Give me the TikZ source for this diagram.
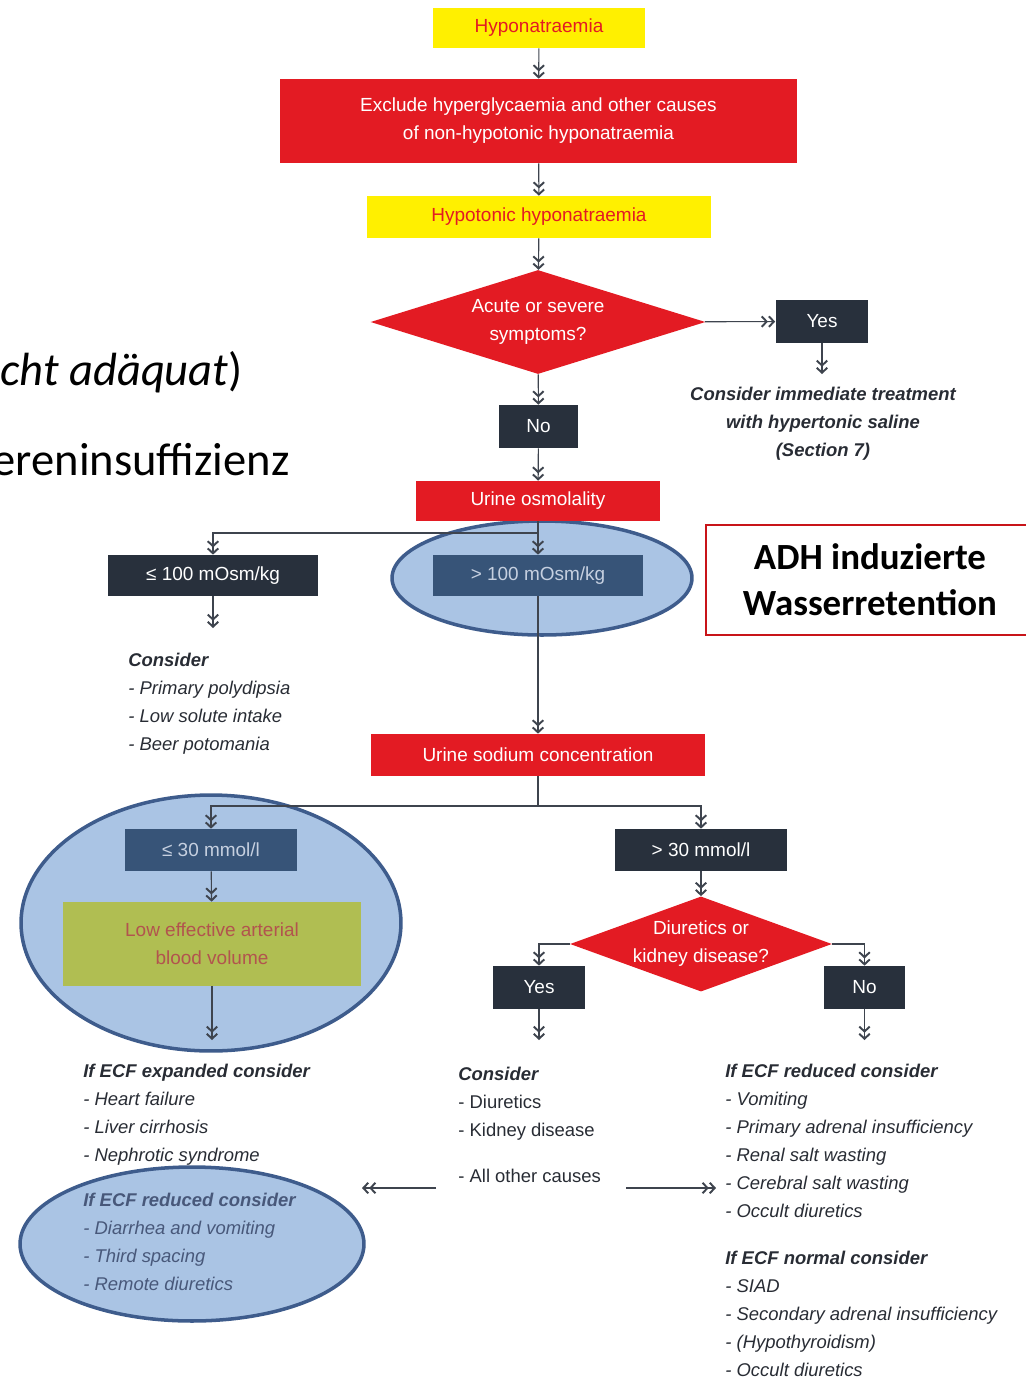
\documentclass[tikz,border=0pt]{standalone}
\usepackage{fontspec}
\setmainfont{Liberation Sans}
\newfontfamily\calibri{Carlito}
\usetikzlibrary{shapes,arrows.meta,calc}
\definecolor{nicered}{RGB}{227,27,35}
\definecolor{signyellow}{RGB}{255,240,0}
\definecolor{slate}{RGB}{40,48,60}
\definecolor{wire}{RGB}{62,68,78}
\definecolor{hlfill}{RGB}{170,196,228}
\definecolor{hldraw}{RGB}{62,92,140}
\definecolor{tintslate}{RGB}{55,84,120}
\definecolor{tinttext}{RGB}{198,208,224}
\definecolor{olivebox}{RGB}{176,190,82}
\definecolor{olivetext}{RGB}{178,84,78}
\definecolor{listtext}{RGB}{40,44,52}
\definecolor{tintlist}{RGB}{72,88,122}
\definecolor{admred}{RGB}{200,20,25}
\tikzstyle{boxtext}=[font=\fontsize{10.8}{15.9}\selectfont,align=center,inner sep=0pt]
\tikzstyle{Ybox}=[boxtext,shape=rectangle,fill=signyellow,text=nicered]
\tikzstyle{Rbox}=[boxtext,shape=rectangle,fill=nicered,text=white]
\tikzstyle{Dbox}=[boxtext,shape=rectangle,fill=slate,text=white]
\tikzstyle{Tbox}=[boxtext,shape=rectangle,fill=tintslate,text=tinttext]
\tikzstyle{Qstate}=[boxtext,shape=diamond,fill=nicered,text=white]
\tikzstyle{hlmark}=[shape=ellipse,draw=hldraw,line width=2pt,fill=hlfill,inner sep=0pt]
\tikzstyle{listnode}=[font=\fontsize{10.5}{15.9}\selectfont,align=left,anchor=north west,inner sep=0pt,text=listtext]
\tikzstyle{flowedge}=[-{Straight Barb[length=2.8pt,width=6pt,line width=1.1pt]Straight Barb[length=2.8pt,width=6pt,line width=1.1pt]},draw=wire,line width=0.65pt]
\tikzstyle{plainedge}=[draw=wire,line width=0.65pt]

\begin{document}
\begin{tikzpicture}[x=0.02cm,y=-0.02cm]
\useasboundingbox (0,0) rectangle (1026,1377);

% highlight marks
\node[hlmark,minimum width=6cm,minimum height=2.28cm] (HL1) at (542,578) {};
\node[hlmark,minimum width=7.6cm,minimum height=5.12cm] (HL2) at (211,923) {};
\node[hlmark,minimum width=6.88cm,minimum height=3.08cm] (HL3) at (192,1244) {};

% left over slide text
\node[font=\calibri\fontsize{26.5}{30}\selectfont,anchor=base east,inner sep=0pt] (FRAG1) at (243,385) {\textit{cht adäquat})};
\node[font=\calibri\fontsize{26.5}{30}\selectfont,anchor=base east,inner sep=0pt] (FRAG2) at (290,475) {ereninsuffizienz};

\node[Ybox,minimum width=4.24cm,minimum height=0.8cm] (HYPO) at (539,28) {Hyponatraemia};
\node[Rbox,minimum width=10.34cm,minimum height=1.68cm] (EXCL) at (538.5,121) {Exclude hyperglycaemia and other causes\\of non-hypotonic hyponatraemia};
\node[Ybox,minimum width=6.88cm,minimum height=0.84cm] (HYPOT) at (539,217) {Hypotonic hyponatraemia};
\node[Qstate,aspect=3.2,minimum width=6.7cm,minimum height=2.08cm] (ACUTE) at (538,322) {Acute or severe\\symptoms?};
\node[Dbox,minimum width=1.86cm,minimum height=0.86cm] (YES1) at (822,321.5) {Yes};
\node[font=\fontsize{10.5}{15.9}\selectfont\bfseries\itshape,align=center,inner sep=0pt,text=listtext] (TREAT) at (823,424) {Consider immediate treatment\\with hypertonic saline\\(Section 7)};
\node[Dbox,minimum width=1.58cm,minimum height=0.86cm] (NO1) at (538.5,426.5) {No};
\node[Rbox,minimum width=4.88cm,minimum height=0.8cm] (UOSM) at (538,501) {Urine osmolality};
\node[Dbox,minimum width=4.2cm,minimum height=0.82cm] (L100) at (213,575.5) {≤ 100 mOsm/kg};
\node[Tbox,minimum width=4.2cm,minimum height=0.82cm] (H100) at (538,575.5) {> 100 mOsm/kg};
\node[draw=admred,line width=1.1pt,minimum width=6.56cm,minimum height=2.2cm,align=center,inner sep=0pt,font=\calibri\bfseries\fontsize{21}{26}\selectfont] (ADH) at (870,580) {ADH induzierte\\Wasserretention};

\node[listnode,font=\fontsize{10.5}{15.9}\selectfont\itshape] (CONS100) at (128,653) {\textbf{Consider}\\- Primary polydipsia\\- Low solute intake\\- Beer potomania};

\node[Rbox,minimum width=6.68cm,minimum height=0.84cm] (USOD) at (538,755) {Urine sodium concentration};
\node[Tbox,minimum width=3.44cm,minimum height=0.84cm] (L30) at (211,850) {≤ 30 mmol/l};
\node[Dbox,minimum width=3.44cm,minimum height=0.84cm] (H30) at (701,850) {> 30 mmol/l};
\node[boxtext,fill=olivebox,text=olivetext,minimum width=5.96cm,minimum height=1.68cm] (LEAB) at (212,944) {Low effective arterial\\blood volume};
\node[Qstate,aspect=2.75,minimum width=5.24cm,minimum height=1.9cm] (DIUR) at (701,944) {Diuretics or\\kidney disease?};
\node[Dbox,minimum width=1.84cm,minimum height=0.86cm] (YES2) at (539,987.5) {Yes};
\node[Dbox,minimum width=1.62cm,minimum height=0.86cm] (NO2) at (864.5,987.5) {No};

\node[listnode,font=\fontsize{10.5}{15.9}\selectfont\itshape] (ECFEXP) at (83,1064) {\textbf{If ECF expanded consider}\\- Heart failure\\- Liver cirrhosis\\- Nephrotic syndrome};
\node[listnode,font=\fontsize{10.5}{15.9}\selectfont\itshape,text=tintlist] (ECFREDL) at (83,1193) {\textbf{If ECF reduced consider}\\- Diarrhea and vomiting\\- Third spacing\\- Remote diuretics};
\node[listnode] (CONSDIU) at (458,1067) {\textbf{\textit{Consider}}\\- Diuretics\\- Kidney disease};
\node[listnode] (ALLOTHER) at (458,1169) {- All other causes};
\node[listnode,font=\fontsize{10.5}{15.9}\selectfont\itshape] (ECFREDR) at (725,1064) {\textbf{If ECF reduced consider}\\- Vomiting\\- Primary adrenal insufficiency\\- Renal salt wasting\\- Cerebral salt wasting\\- Occult diuretics};
\node[listnode,font=\fontsize{10.5}{15.9}\selectfont\itshape] (ECFNORM) at (725,1251) {\textbf{If ECF normal consider}\\- SIAD\\- Secondary adrenal insufficiency\\- (Hypothyroidism)\\- Occult diuretics};

% free ends and splits
\coordinate (YES1END) at (822,374);
\coordinate (OSMSPLIT) at (538,533);
\coordinate (L100END) at (213,628);
\coordinate (NASPLIT) at (538,806);
\coordinate (LEABEND) at (212,1040);
\coordinate (YES2END) at (539,1040);
\coordinate (NO2END) at (864.5,1040);
\coordinate (OTHLEFT) at (436,1188);
\coordinate (OTHLEFTEND) at (362,1188);
\coordinate (OTHRIGHT) at (626,1188);
\coordinate (OTHRIGHTEND) at (716,1188);

\path
(HYPO) edge [flowedge] (EXCL)
(EXCL) edge [flowedge] (HYPOT)
(HYPOT) edge [flowedge] (ACUTE)
(ACUTE) edge [flowedge] (YES1)
(YES1) edge [flowedge] (YES1END)
(ACUTE) edge [flowedge] (NO1)
(NO1) edge [flowedge] (UOSM)
(UOSM) edge [plainedge] (OSMSPLIT)
(OSMSPLIT) edge [flowedge] (H100)
(L100) edge [flowedge] (L100END)
(H100) edge [flowedge] (USOD)
(USOD) edge [plainedge] (NASPLIT)
(L30) edge [flowedge] (LEAB)
(LEAB) edge [flowedge] (LEABEND)
(H30) edge [flowedge] (DIUR)
(YES2) edge [flowedge] (YES2END)
(NO2) edge [flowedge] (NO2END)
(OTHLEFT) edge [flowedge] (OTHLEFTEND)
(OTHRIGHT) edge [flowedge] (OTHRIGHTEND);

\draw[flowedge] (OSMSPLIT) -| (L100);
\draw[flowedge] (NASPLIT) -| (L30);
\draw[flowedge] (NASPLIT) -| (H30);
\draw[flowedge] (DIUR.west) -| (YES2);
\draw[flowedge] (DIUR.east) -| (NO2);

\end{tikzpicture}
\end{document}
